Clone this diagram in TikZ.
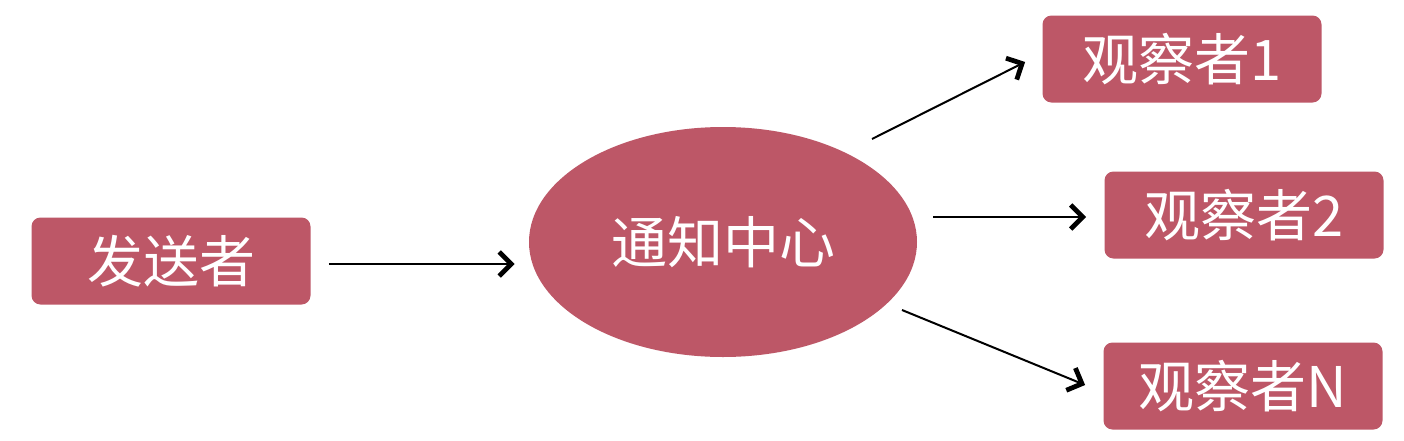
\documentclass[tikz,border=0pt]{standalone}
\usepackage{fontspec}
\setmainfont{Noto Sans CJK SC}
\usetikzlibrary{shapes.geometric,arrows.meta,calc}
\definecolor{rose}{RGB}{189,87,103}
\begin{document}
\begin{tikzpicture}[x=0.5pt,y=-0.5pt,
  box/.style={fill=rose,draw=none,rounded corners=4.5pt,minimum width=139.5pt,minimum height=43.5pt,
    text=white,font=\fontsize{28}{32}\selectfont,inner sep=0pt},
  hubshape/.style={ellipse,fill=rose,draw=none,minimum width=194pt,minimum height=115pt,
    text=white,font=\fontsize{28}{32}\selectfont,inner sep=0pt},
  arr/.style={line width=1pt,black,-{Straight Barb[length=6pt,width=12pt,line width=2.4pt 0 0]}}]
\useasboundingbox (0,0) rectangle (1404,440);
\fill[white] (0,0) rectangle (1404,440);
\node[box] (snd) at (171,261) {发送者};
\node[hubshape] (hub) at (723,242) {通知中心};
\node[box] (o1) at (1182,59) {观察者1};
\node[box] (o2) at (1244,215) {观察者2};
\node[box] (oN) at (1243,386) {观察者N};
\draw[arr] ($(snd.east)+(18,3)$) -- ($(hub.west)+(-14,22)$);
\draw[arr] ($(hub.center)+(149,-103)$) -- ($(o1.west)+(-17,3)$);
\draw[arr] ($(hub.east)+(16,-25)$) -- ($(o2.west)+(-18,2)$);
\draw[arr] ($(hub.center)+(179,68)$) -- ($(oN.west)+(-18,-1)$);
\end{tikzpicture}
\end{document}
